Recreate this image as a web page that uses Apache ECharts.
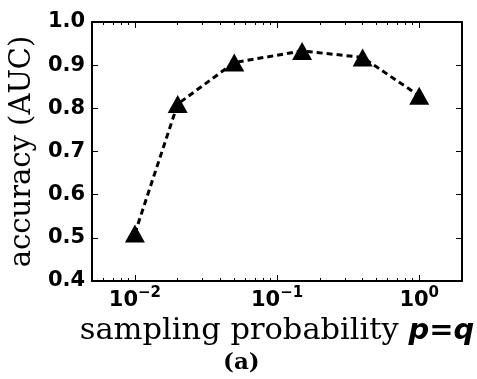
<!DOCTYPE html>
<html>
<head>
<meta charset="utf-8">
<script src="https://cdn.jsdelivr.net/npm/echarts@6/dist/echarts.min.js"></script>
<style>
html,body{margin:0;padding:0;background:#fff;}
#c{width:477px;height:379px;}
</style>
</head>
<body>
<div id="c"></div>
<script>
// Data
const samplingP = [0.01, 0.02, 0.05, 0.15, 0.4, 1.0];
const accuracyAUC = [0.51, 0.81, 0.906, 0.933, 0.918, 0.829];
const yTicks = [0.4, 0.5, 0.6, 0.7, 0.8, 0.9, 1.0];
const xDecades = [0.01, 0.1, 1];
const xExp = {0.01: '−2', 0.1: '−1', 1: '0'};

const chart = echarts.init(document.getElementById('c'), null, {renderer: 'canvas'});

function xLabel(v) {
  for (const d of xDecades) {
    if (Math.abs(v - d) / d < 1e-6) return '{b|10}{s|' + xExp[d] + '}';
  }
  return '';
}

const axisLineStyle = {color: '#000', width: 2};
const xCommon = {
  type: 'log', logBase: 10, min: 0.005, max: 2,
  axisLine: {show: true, onZero: false, lineStyle: axisLineStyle},
  axisTick: {show: true, inside: true, length: 6, lineStyle: {color: '#000', width: 1}},
  minorTick: {show: true, splitNumber: 9, length: 3, lineStyle: {color: '#000', width: 1}},
  splitLine: {show: false}, minorSplitLine: {show: false}
};
const yCommon = {
  type: 'value', min: 0.4, max: 1.0, interval: 0.1,
  axisLine: {show: true, onZero: false, lineStyle: axisLineStyle},
  axisTick: {show: true, inside: true, length: 6, lineStyle: {color: '#000', width: 1}},
  splitLine: {show: false}
};

chart.setOption({
  animation: false,
  backgroundColor: '#fff',
  grid: {left: 90, right: 15, top: 22, bottom: 98, containLabel: false},
  title: {
    text: '(a)', left: 218, top: 347,
    textStyle: {fontFamily: 'DejaVu Serif', fontWeight: 'bold', fontSize: 23, color: '#000'}
  },
  xAxis: [
    Object.assign({}, xCommon, {
      position: 'bottom',
      axisLabel: {
        show: true, margin: 5, showMinLabel: false, showMaxLabel: false,
        formatter: xLabel,
        rich: {
          b: {fontFamily: 'DejaVu Sans', fontWeight: 'bold', fontSize: 21, color: '#000', verticalAlign: 'bottom'},
          s: {fontFamily: 'DejaVu Sans', fontWeight: 'bold', fontSize: 15, color: '#000', verticalAlign: 'top', padding: [0, 0, 10, 0]}
        }
      },
      name: '{t|sampling probability }{p|p=q}',
      nameLocation: 'middle', nameGap: 29,
      nameTextStyle: {
        rich: {
          t: {fontFamily: 'DejaVu Serif', fontSize: 30.5, color: '#000'},
          p: {fontFamily: 'DejaVu Sans', fontWeight: 'bold', fontStyle: 'italic', fontSize: 29, color: '#000'}
        }
      }
    }),
    Object.assign({}, xCommon, {position: 'top', axisLabel: {show: false}})
  ],
  yAxis: [
    Object.assign({}, yCommon, {
      position: 'left',
      axisLabel: {
        show: true, margin: 7,
        formatter: v => v.toFixed(1),
        fontFamily: 'DejaVu Sans', fontWeight: 'bold', fontSize: 21, color: '#000'
      },
      name: 'accuracy (AUC)', nameLocation: 'middle', nameRotate: 90, nameGap: 45,
      nameTextStyle: {fontFamily: 'DejaVu Serif', fontSize: 29, color: '#000'}
    }),
    Object.assign({}, yCommon, {position: 'right', axisLabel: {show: false}})
  ],
  series: [{
    type: 'line',
    xAxisIndex: 0, yAxisIndex: 0,
    data: samplingP.map((p, i) => [p, accuracyAUC[i]]),
    symbol: 'triangle', symbolSize: [20, 18],
    itemStyle: {color: '#000'},
    lineStyle: {color: '#000', width: 3, type: [6, 4]}
  }]
});
</script>
</body>
</html>
